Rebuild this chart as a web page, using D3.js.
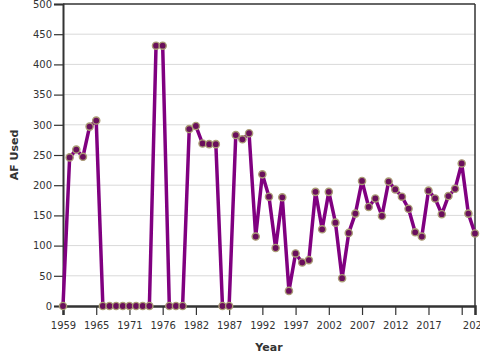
<!DOCTYPE html>
<html>
<head>
<meta charset="utf-8">
<script src="https://cdn.jsdelivr.net/npm/d3@7"></script>
<style>
  html, body { margin: 0; padding: 0; background: #fff; }
  svg { display: block; font-family: "DejaVu Sans", sans-serif; }
</style>
</head>
<body>
<svg id="chart" width="480" height="360"></svg>
<script>
// Years (categories) — a few years are absent from the record
const years = [
  1959, 1960, 1961, 1962, 1963, 1965, 1966, 1967, 1968, 1969,
  1971, 1972, 1973, 1974, 1975, 1976, 1977, 1978, 1979, 1980,
  1982, 1983, 1984, 1985, 1986, 1987, 1988, 1989, 1990, 1991,
  1992, 1993, 1994, 1995, 1996, 1997, 1998, 1999, 2000, 2001,
  2002, 2003, 2004, 2005, 2006, 2007, 2008, 2009, 2010, 2011,
  2012, 2013, 2014, 2015, 2016, 2017, 2018, 2019, 2020, 2021,
  2022, 2023, 2024
];
// AF Used values
const afUsed = [
  0, 246, 259, 247, 297, 307, 0, 0, 0, 0,
  0, 0, 0, 0, 431, 431, 0, 0, 0, 293,
  298, 269, 268, 268, 0, 0, 283, 276, 286, 115,
  218, 181, 96, 180, 25, 87, 72, 76, 189, 127,
  189, 138, 46, 121, 153, 207, 164, 178, 149, 206,
  193, 181, 161, 122, 115, 191, 178, 152, 182, 194,
  236, 153, 120
];
const yTicks = [0, 50, 100, 150, 200, 250, 300, 350, 400, 450, 500];
const xTickEvery = 5;

const svg = d3.select("#chart");
const W = 480, H = 360;
const m = { left: 63, right: 5, top: 4, bottom: 54 };
const iw = W - m.left - m.right, ih = H - m.top - m.bottom;

const data = years.map((y, i) => ({ year: String(y), v: afUsed[i] }));

const x = d3.scalePoint().domain(data.map(d => d.year)).range([m.left, m.left + iw]).padding(0);
const y = d3.scaleLinear().domain([0, 500]).range([m.top + ih, m.top]);

// gridlines
svg.append("g")
  .selectAll("line")
  .data(yTicks.filter(t => t > 0 && t < 500))
  .join("line")
  .attr("x1", m.left).attr("x2", m.left + iw)
  .attr("y1", d => y(d)).attr("y2", d => y(d))
  .attr("stroke", "#d9d9d9").attr("stroke-width", 1);

// frame top/right
svg.append("line")
  .attr("x1", m.left).attr("x2", m.left + iw)
  .attr("y1", m.top).attr("y2", m.top)
  .attr("stroke", "#333").attr("stroke-width", 1.5);
svg.append("line")
  .attr("x1", m.left + iw).attr("x2", m.left + iw)
  .attr("y1", m.top).attr("y2", m.top + ih)
  .attr("stroke", "#333").attr("stroke-width", 1.5);

// x axis
const domain = x.domain();
const tickVals = domain.filter((d, i) => i % xTickEvery === 0 || i === domain.length - 1);
const hiddenLabel = domain.filter((d, i) => i % xTickEvery === 0).slice(-1)[0];
const xAxis = svg.append("g")
  .attr("transform", `translate(0,${m.top + ih})`)
  .call(d3.axisBottom(x).tickValues(tickVals).tickSize(9).tickPadding(7)
    .tickFormat(d => d === hiddenLabel && domain.indexOf(d) !== domain.length - 1 ? "" : d));
xAxis.select(".domain").attr("stroke", "#333").attr("stroke-width", 2.5);
xAxis.selectAll(".tick line").attr("stroke", "#333").attr("stroke-width", 1.2);
xAxis.selectAll("text").attr("font-size", 10).attr("fill", "#333").attr("font-family", "DejaVu Sans");

// y axis
const yAxis = svg.append("g")
  .attr("transform", `translate(${m.left},0)`)
  .call(d3.axisLeft(y).tickValues(yTicks).tickSize(9).tickPadding(2));
yAxis.select(".domain").attr("stroke", "#333").attr("stroke-width", 2);
yAxis.selectAll(".tick line").attr("stroke", "#333").attr("stroke-width", 1.2);
yAxis.selectAll("text").attr("font-size", 10).attr("fill", "#333").attr("font-family", "DejaVu Sans");

// line
svg.append("path")
  .datum(data)
  .attr("fill", "none")
  .attr("stroke", "#800080")
  .attr("stroke-width", 3.5)
  .attr("stroke-linejoin", "round")
  .attr("d", d3.line().x(d => x(d.year)).y(d => y(d.v)));

// markers
svg.append("g")
  .selectAll("circle")
  .data(data)
  .join("circle")
  .attr("cx", d => x(d.year)).attr("cy", d => y(d.v))
  .attr("r", 3.6)
  .attr("fill", "#6a0f5c")
  .attr("stroke", "#ab9d76")
  .attr("stroke-width", 1.4);

// axis titles
svg.append("text")
  .attr("x", m.left + iw / 2).attr("y", 351)
  .attr("text-anchor", "middle")
  .attr("font-size", 11).attr("font-weight", "bold").attr("fill", "#333")
  .text("Year");
svg.append("text")
  .attr("transform", `translate(18,${m.top + ih / 2}) rotate(-90)`)
  .attr("text-anchor", "middle")
  .attr("font-size", 11).attr("font-weight", "bold").attr("fill", "#333")
  .text("AF Used");
</script>
</body>
</html>
